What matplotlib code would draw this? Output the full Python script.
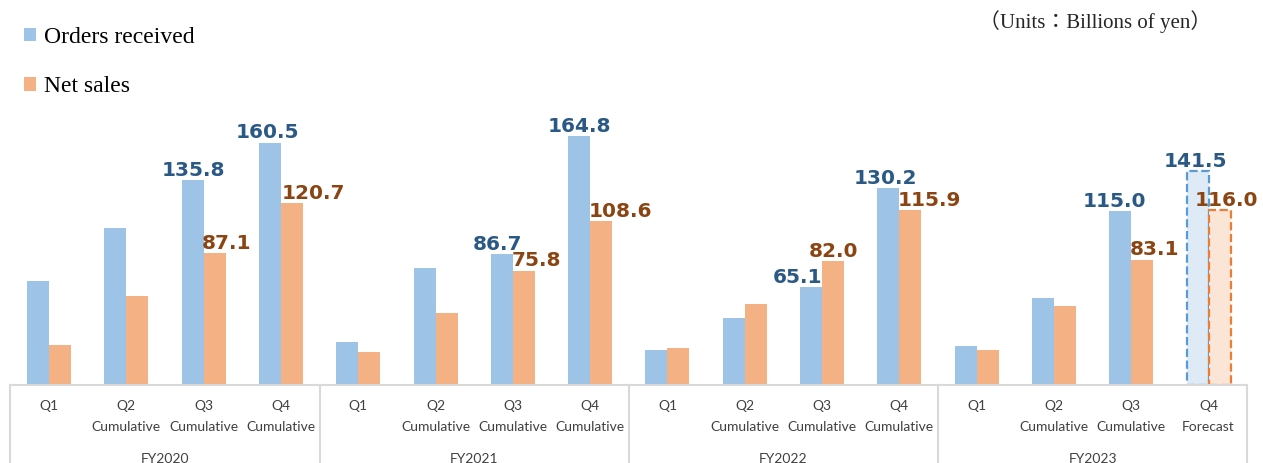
import matplotlib
matplotlib.use("Agg")
import matplotlib.pyplot as plt
import numpy as np

# data (billions of yen)
fiscal_years = ["FY2020", "FY2021", "FY2022", "FY2023"]
quarters = ["Q1", "Q2\nCumulative", "Q3\nCumulative", "Q4\nCumulative"]
last_quarters = ["Q1", "Q2\nCumulative", "Q3\nCumulative", "Q4\nForecast"]

orders = [68.9, 104.0, 135.8, 160.5,
          28.5, 77.5, 86.7, 164.8,
          23.2, 44.4, 65.1, 130.2,
          25.8, 57.6, 115.0, 141.5]
net_sales = [26.5, 59.0, 87.1, 120.7,
             21.9, 47.7, 75.8, 108.6,
             24.5, 53.6, 82.0, 115.9,
             23.2, 52.3, 83.1, 116.0]
labelled = [False, False, True, True] * 4
forecast = [False] * 15 + [True]

# label nudges in pixels (to mimic hand placed labels)
orders_dx = [0, 0, 1, -2, 0, 0, -4, 0, 0, 0, -14, -3, 0, 0, -6, -2]
net_dx = [0, 0, 12, 21, 0, 0, 13, 19, 0, 0, 0, 19, 0, 0, 12, 7]

blue = "#9DC3E6"
orange = "#F4B183"
blue_txt = "#2A5986"
orange_txt = "#8B4513"
grid_col = "#D9D9D9"

W, H = 1263, 463
fig = plt.figure(figsize=(W / 100, H / 100), dpi=100)

scale = 1.51  # px per unit
ytop = 180
ax_h = ytop * scale
ax = fig.add_axes([10.4 / W, 78 / H, 1236.8 / W, ax_h / H])

x = np.arange(len(orders))
bw = 0.285
cats = quarters * 3 + last_quarters

for i in x:
    if forecast[i]:
        ax.bar(i - bw / 2, orders[i], bw, color="#DEEBF7", edgecolor="#5B9BD5",
               linestyle="--", linewidth=1.6)
        ax.bar(i + bw / 2, net_sales[i], bw, color="#FBE5D6", edgecolor="#ED7D31",
               linestyle="--", linewidth=1.6)

b1 = ax.bar(x[:-1] - bw / 2, orders[:-1], bw, color=blue, label="Orders received")
b2 = ax.bar(x[:-1] + bw / 2, net_sales[:-1], bw, color=orange, label="Net sales")

lab_font = dict(family="DejaVu Sans", weight="bold", fontsize=14.5)
for i in x:
    if not labelled[i]:
        continue
    ax.annotate(f"{orders[i]:.1f}", (i - bw / 2, orders[i]),
                xytext=(orders_dx[i] * 0.72, 3), textcoords="offset points",
                ha="center", va="baseline", color=blue_txt, **lab_font)
    ax.annotate(f"{net_sales[i]:.1f}", (i + bw / 2, net_sales[i]),
                xytext=(net_dx[i] * 0.72, 3), textcoords="offset points",
                ha="center", va="baseline", color=orange_txt, **lab_font)

ax.set_xlim(-0.5, len(x) - 0.5)
ax.set_ylim(0, ytop)
ax.set_yticks([])
ax.set_xticks(x)
ax.set_xticklabels(cats, fontsize=10, family="Lato", color="#404040",
                   linespacing=1.9)
ax.tick_params(axis="x", length=0, pad=11)
for s in ["top", "left", "right"]:
    ax.spines[s].set_visible(False)
ax.spines["bottom"].set_color(grid_col)
ax.spines["bottom"].set_linewidth(1.5)
ax.patch.set_alpha(0)

# group separators and fiscal year labels
tr = ax.get_xaxis_transform()
depth = 78 / ax_h
for b in np.arange(-0.5, len(x), 4):
    ax.plot([b, b], [0, -depth], transform=tr, color=grid_col, lw=1.5,
            clip_on=False)
for g, fy in enumerate(fiscal_years):
    ax.text(g * 4 + 1.5, -74 / ax_h, fy, transform=tr, ha="center", va="center",
            fontsize=10, family="Lato", color="#404040")

fig.legend(handles=[b1, b2], loc="upper left", bbox_to_anchor=(24 / W, 1 - 27 / H),
           frameon=False, prop=dict(family="Liberation Serif", size=17),
           handlelength=0.5, handleheight=0.5, handletextpad=0.35,
           labelspacing=1.2, borderpad=0, borderaxespad=0)

fig.text(1211 / W, 1 - 22 / H, "（Units：Billions of yen）", ha="right", va="center",
         fontsize=15, family=["Liberation Serif", "Noto Sans CJK JP"], color="#262626")

fig.savefig("out.png", dpi=100)
